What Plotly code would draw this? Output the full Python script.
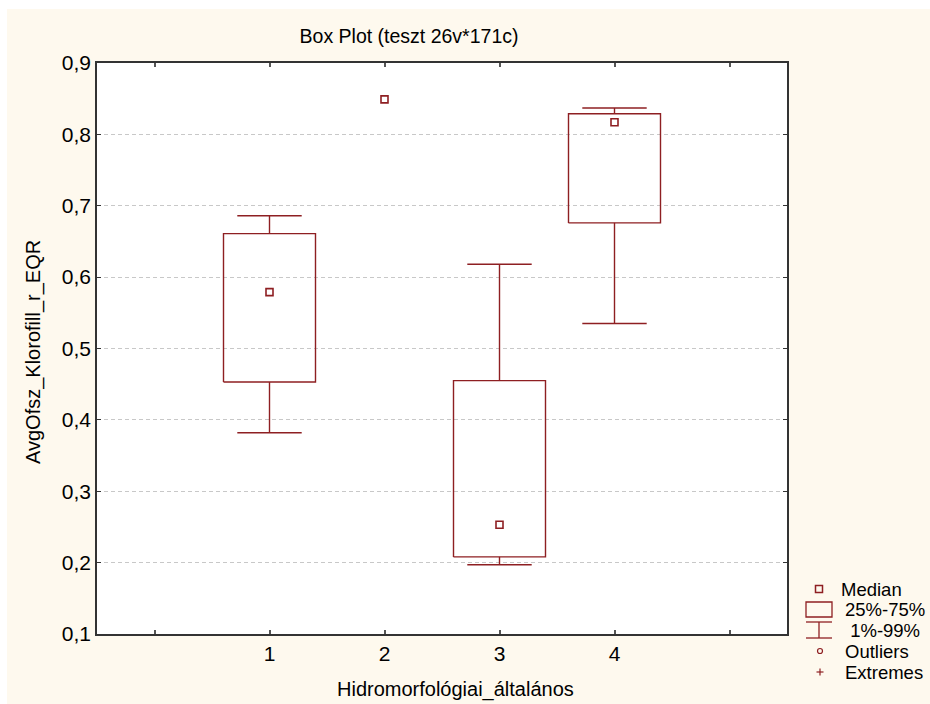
import plotly.graph_objects as go

# ---- data ----
categories = [1, 2, 3, 4]
p01 = [0.382, None, 0.197, 0.535]      # 1% whisker end
q25 = [0.453, None, 0.208, 0.676]      # box bottom
medians = [0.579, 0.849, 0.253, 0.817]  # median marker
q75 = [0.661, None, 0.455, 0.829]      # box top
p99 = [0.686, None, 0.618, 0.837]      # 99% whisker end
x_tickvals = [0, 1, 2, 3, 4, 5]
x_ticktext = ["", "1", "2", "3", "4", ""]
y_tickvals = [0.1, 0.2, 0.3, 0.4, 0.5, 0.6, 0.7, 0.8, 0.9]

title_text = "Box Plot (teszt 26v*171c)"
x_title = "Hidromorfológiai_általános"
y_title = "AvgOfsz_Klorofill_r_EQR"
legend_labels = ["Median", "25%-75%", " 1%-99%", "Outliers", "Extremes"]

# ---- style ----
RED = "#8E1F22"
CREAM = "#FEF9EE"
FONT = "Liberation Sans, Arial, sans-serif"
FS_TICK = 21
FS_AXT = 20
FS_TITLE = 19.5
FS_LEG = 18.5
BOX_HW = 0.40
CAP_HW = 0.28

W, H = 930, 704
ML, MR, MT, MB = 97, 143, 63, 70
PW, PH = W - ML - MR, H - MT - MB


def px2paper(px, py):
    return (px - ML) / PW, (H - MB - py) / PH


fig = go.Figure()

# boxes + whiskers built from the data arrays
bx, by = [], []
wx, wy = [], []
for c, lo, a, b, hi in zip(categories, p01, q25, q75, p99):
    if a is None or b is None:
        continue
    bx += [c - BOX_HW, c + BOX_HW, c + BOX_HW, c - BOX_HW, c - BOX_HW, None]
    by += [a, a, b, b, a, None]
    wx += [c, c, None, c - CAP_HW, c + CAP_HW, None,
           c, c, None, c - CAP_HW, c + CAP_HW, None]
    wy += [b, hi, None, hi, hi, None, a, lo, None, lo, lo, None]

fig.add_trace(go.Scatter(x=bx, y=by, mode="lines",
                         line=dict(color=RED, width=1.4),
                         hoverinfo="skip", showlegend=False))
fig.add_trace(go.Scatter(x=wx, y=wy, mode="lines",
                         line=dict(color=RED, width=1.4),
                         hoverinfo="skip", showlegend=False))
fig.add_trace(go.Scatter(x=categories, y=medians, mode="markers",
                         marker=dict(symbol="square-open", size=7,
                                     color=RED, line=dict(width=1.6, color=RED)),
                         showlegend=False))

shapes = []
annotations = []

# white page border at top / left
x0, _ = px2paper(0, 0)
x1, _ = px2paper(7, 0)
_, yt = px2paper(0, 0)
_, yb = px2paper(0, H)
shapes.append(dict(type="rect", xref="paper", yref="paper", x0=x0, x1=x1,
                   y0=yb, y1=yt, fillcolor="white", line=dict(width=0),
                   layer="below"))
x0, _ = px2paper(0, 0)
x1, _ = px2paper(W, 0)
_, y0 = px2paper(0, 9)
shapes.append(dict(type="rect", xref="paper", yref="paper", x0=x0, x1=x1,
                   y0=y0, y1=yt, fillcolor="white", line=dict(width=0),
                   layer="below"))

# ---- custom legend (bottom right) ----
sym_cx = 819
text_xs = [839, 843, 843, 843, 843]
rows_y = [589, 609, 630, 651, 672]

# Median symbol
mx, my = px2paper(sym_cx, rows_y[0])
hx, hy = 3.5 / PW, 3.5 / PH
shapes.append(dict(type="rect", xref="paper", yref="paper",
                   x0=mx - hx, x1=mx + hx, y0=my - hy, y1=my + hy,
                   line=dict(color=RED, width=1.5)))
# box symbol
ax0, ay0 = px2paper(806, 602)
ax1, ay1 = px2paper(832, 617)
shapes.append(dict(type="rect", xref="paper", yref="paper",
                   x0=ax0, x1=ax1, y0=ay1, y1=ay0,
                   line=dict(color=RED, width=1.3)))
# whisker symbol
for yy in (622, 638):
    a0, b0 = px2paper(806, yy)
    a1, _ = px2paper(832, yy)
    shapes.append(dict(type="line", xref="paper", yref="paper",
                       x0=a0, x1=a1, y0=b0, y1=b0,
                       line=dict(color=RED, width=1.3)))
a0, b0 = px2paper(sym_cx, 622)
_, b1 = px2paper(sym_cx, 638)
shapes.append(dict(type="line", xref="paper", yref="paper",
                   x0=a0, x1=a0, y0=b0, y1=b1, line=dict(color=RED, width=1.3)))
# outlier circle
ox, oy = px2paper(sym_cx + 1, rows_y[3])
rx, ry = 2.5 / PW, 2.5 / PH
shapes.append(dict(type="circle", xref="paper", yref="paper",
                   x0=ox - rx, x1=ox + rx, y0=oy - ry, y1=oy + ry,
                   line=dict(color=RED, width=1.2)))
# extremes plus
ex, ey = px2paper(sym_cx + 1, rows_y[4])
pxh, pyh = 3.5 / PW, 3.5 / PH
shapes.append(dict(type="line", xref="paper", yref="paper",
                   x0=ex - pxh, x1=ex + pxh, y0=ey, y1=ey,
                   line=dict(color=RED, width=1.2)))
shapes.append(dict(type="line", xref="paper", yref="paper",
                   x0=ex, x1=ex, y0=ey - pyh, y1=ey + pyh,
                   line=dict(color=RED, width=1.2)))

for lab, ry_, tx_ in zip(legend_labels, rows_y, text_xs):
    tx, ty = px2paper(tx_, ry_)
    annotations.append(dict(text=lab, xref="paper", yref="paper", x=tx, y=ty,
                            xanchor="left", yanchor="middle", showarrow=False,
                            font=dict(family=FONT, size=FS_LEG, color="black")))

# axis titles
tx, ty = px2paper(455, 689)
annotations.append(dict(text=x_title, xref="paper", yref="paper", x=tx, y=ty,
                        xanchor="center", yanchor="middle", showarrow=False,
                        font=dict(family=FONT, size=FS_AXT, color="black")))
tx, ty = px2paper(33, 352)
annotations.append(dict(text=y_title, xref="paper", yref="paper", x=tx, y=ty,
                        xanchor="center", yanchor="middle", showarrow=False,
                        textangle=-90,
                        font=dict(family=FONT, size=FS_AXT, color="black")))

fig.update_layout(
    width=W, height=H,
    margin=dict(l=ML, r=MR, t=MT, b=MB, pad=0),
    paper_bgcolor=CREAM, plot_bgcolor="white",
    separators=",.",
    showlegend=False,
    title=dict(text=title_text, x=409 / W, xanchor="center",
               y=1 - 36 / H, yanchor="middle",
               font=dict(family=FONT, size=FS_TITLE, color="black")),
    font=dict(family=FONT, size=FS_TICK, color="black"),
    shapes=shapes, annotations=annotations,
    xaxis=dict(range=[-0.5, 5.5], tickvals=x_tickvals, ticktext=x_ticktext,
               ticks="inside", ticklen=4, tickcolor="#555", tickwidth=1.5,
               showgrid=False, zeroline=False,
               showline=True, linecolor="#333", linewidth=1.6, mirror="allticks",
               tickfont=dict(family=FONT, size=FS_TICK, color="black")),
    yaxis=dict(range=[0.1, 0.9], tickvals=y_tickvals, tickformat=".1f",
               ticks="inside", ticklen=4, tickcolor="#333", tickwidth=1.2,
               showgrid=True, gridcolor="#C8C8C8", gridwidth=1, griddash="4px,3px",
               zeroline=False,
               showline=True, linecolor="#333", linewidth=1.6, mirror="allticks",
               tickfont=dict(family=FONT, size=FS_TICK, color="black")),
)

fig.write_html("out.html")
